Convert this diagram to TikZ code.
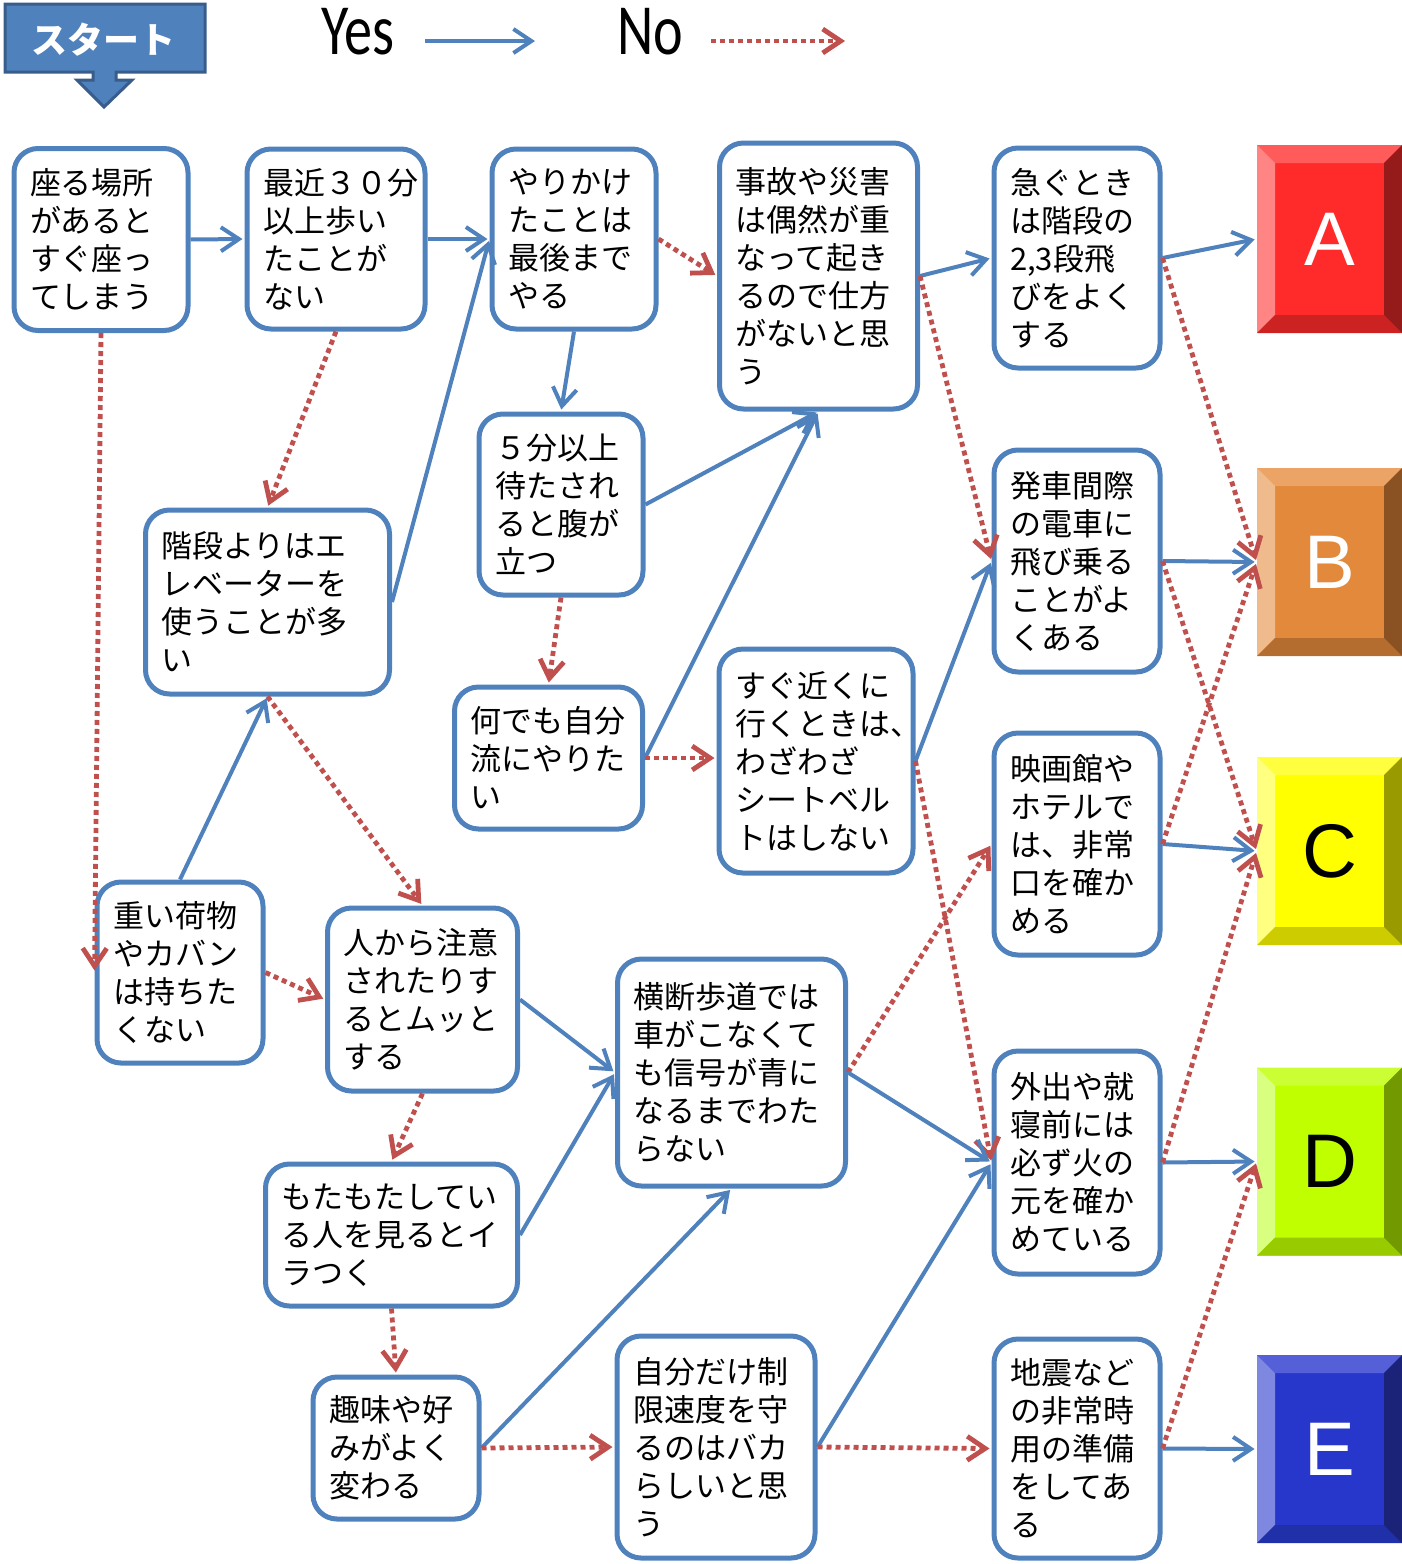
\documentclass[tikz,border=0pt]{standalone}
\usepackage{fontspec}
\usepackage{tikz}
\usetikzlibrary{arrows.meta, positioning, calc}
\newfontfamily\jpfont{Noto Sans CJK JP}
\newfontfamily\legendfont[FakeStretch=0.78]{Carlito}
\newfontfamily\resfont{Liberation Sans}
\definecolor{FlowBlue}{HTML}{4F81BD}
\definecolor{FlowBlueDark}{HTML}{385D8A}
\definecolor{FlowRed}{HTML}{C0504D}
\definecolor{AFace}{HTML}{FF2B2B}\definecolor{ATop}{HTML}{FF5B5B}\definecolor{ALeft}{HTML}{FF8585}\definecolor{ABot}{HTML}{CC2222}\definecolor{ARight}{HTML}{951A1A}
\definecolor{BFace}{HTML}{E2893B}\definecolor{BTop}{HTML}{ECA466}\definecolor{BLeft}{HTML}{F0BB8C}\definecolor{BBot}{HTML}{B56D2F}\definecolor{BRight}{HTML}{8A5223}
\definecolor{CFace}{HTML}{FFFF00}\definecolor{CTop}{HTML}{FFFF40}\definecolor{CLeft}{HTML}{FFFF80}\definecolor{CBot}{HTML}{CCCC00}\definecolor{CRight}{HTML}{999900}
\definecolor{DFace}{HTML}{BFFF00}\definecolor{DTop}{HTML}{CCFF33}\definecolor{DLeft}{HTML}{D9FF80}\definecolor{DBot}{HTML}{99CC00}\definecolor{DRight}{HTML}{739900}
\definecolor{EFace}{HTML}{2837CB}\definecolor{ETop}{HTML}{5560D8}\definecolor{ELeft}{HTML}{7F88E0}\definecolor{EBot}{HTML}{2030A8}\definecolor{ERight}{HTML}{1A2378}
\hfuzz=40pt

\begin{document}
\begin{tikzpicture}[
  x=0.5pt, y=-0.5pt,
  qbox/.style={rectangle, draw=FlowBlue, line width=2.5pt, rounded corners=12pt, fill=white, align=left, inner xsep=8pt, font=\jpfont\fontsize{15.5}{19}\selectfont},
  result/.style={rectangle, minimum width=72.5pt, minimum height=94pt, inner sep=0pt, fill=#1Face, font=\resfont\fontsize{38}{40}\selectfont,
    path picture={
      \fill[#1Top] (path picture bounding box.north west) -- (path picture bounding box.north east) -- ([shift={(-9pt,-9pt)}]path picture bounding box.north east) -- ([shift={(9pt,-9pt)}]path picture bounding box.north west) -- cycle;
      \fill[#1Left] (path picture bounding box.north west) -- ([shift={(9pt,-9pt)}]path picture bounding box.north west) -- ([shift={(9pt,9pt)}]path picture bounding box.south west) -- (path picture bounding box.south west) -- cycle;
      \fill[#1Bot] (path picture bounding box.south west) -- ([shift={(9pt,9pt)}]path picture bounding box.south west) -- ([shift={(-9pt,9pt)}]path picture bounding box.south east) -- (path picture bounding box.south east) -- cycle;
      \fill[#1Right] (path picture bounding box.north east) -- (path picture bounding box.south east) -- ([shift={(-9pt,9pt)}]path picture bounding box.south east) -- ([shift={(-9pt,-9pt)}]path picture bounding box.north east) -- cycle;
    }},
  yesarrow/.style={draw=FlowBlue, line width=2pt, -{Straight Barb[length=9pt,width=12pt]}, shorten >=1pt},
  noarrow/.style={draw=FlowRed, line width=2.4pt, dash pattern=on 2.5pt off 2pt, -{Straight Barb[length=9pt,width=12pt]}, shorten >=1pt}
]
\useasboundingbox (0,0) rectangle (1402,1564);

\fill[FlowBlue, draw=FlowBlueDark, line width=1.5pt, line join=miter] (5,4) -- (205,4) -- (205,72) -- (116,72) -- (116,80) -- (132,80) -- (104,107) -- (77,80) -- (93,80) -- (93,72) -- (5,72) -- cycle;
\node[font=\jpfont\bfseries\fontsize{18}{20}\selectfont, text=white] (Start) at (104,40) {スタート};

\node[font=\legendfont\fontsize{36}{40}\selectfont, inner sep=0pt, anchor=base] (YesLbl) at (358,54) {Yes};
\node[font=\legendfont\fontsize{36}{40}\selectfont, inner sep=0pt, anchor=base] (NoLbl) at (650,54) {No};
\coordinate (YesFrom) at (425,41);
\coordinate (YesTo) at (537,41);
\coordinate (NoFrom) at (711,41);
\coordinate (NoTo) at (847,41);

\node[qbox, text width=71pt, minimum height=91pt] (Sit) at (101,239.5) {座る場所\\があると\\すぐ座っ\\てしまう};
\node[qbox, text width=73pt, minimum height=90pt] (Walk) at (336,239) {最近３０分\\以上歩い\\たことが\\ない};
\node[qbox, text width=66pt, minimum height=90pt] (Finish) at (574,239) {やりかけ\\たことは\\最後まで\\やる};
\node[qbox, text width=83pt, minimum height=133pt] (Fate) at (818.5,276) {事故や災害\\は偶然が重\\なって起き\\るので仕方\\がないと思\\う};
\node[qbox, text width=67pt, minimum height=110pt] (Stairs) at (1077,258) {急ぐとき\\は階段の\\2,3段飛\\びをよく\\する};
\node[qbox, text width=66pt, minimum height=90.5pt] (Wait) at (561,504.5) {５分以上\\待たされ\\ると腹が\\立つ};
\node[qbox, text width=106pt, minimum height=92pt] (Elevator) at (267.5,602) {階段よりはエ\\レベーターを\\使うことが多\\い};
\node[qbox, text width=78pt, minimum height=71pt] (MyWay) at (548.5,758) {何でも自分\\流にやりた\\い};
\node[qbox, text width=81pt, minimum height=112pt] (Belt) at (816,761) {すぐ近くに\\行くときは、\\わざわざ\\シートベル\\トはしない};
\node[qbox, text width=67pt, minimum height=111pt] (Train) at (1077,561) {発車間際\\の電車に\\飛び乗る\\ことがよ\\くある};
\node[qbox, text width=67pt, minimum height=111pt] (Exit) at (1077,844) {映画館や\\ホテルで\\は、非常\\口を確か\\める};
\node[qbox, text width=67pt, minimum height=90.5pt] (Luggage) at (180,972.5) {重い荷物\\やカバン\\は持ちた\\くない};
\node[qbox, text width=79pt, minimum height=91.5pt] (Warned) at (422.5,999.5) {人から注意\\されたりす\\るとムッと\\する};
\node[qbox, text width=98pt, minimum height=113.5pt] (Crossing) at (731.5,1072.5) {横断歩道では\\車がこなくて\\も信号が青に\\なるまでわた\\らない};
\node[qbox, text width=67pt, minimum height=111.5pt] (Fire) at (1077,1162.5) {外出や就\\寝前には\\必ず火の\\元を確か\\めている};
\node[qbox, text width=110pt, minimum height=71pt] (Slow) at (391.5,1235) {もたもたしてい\\る人を見るとイ\\ラつく};
\node[qbox, text width=67pt, minimum height=71pt] (Hobby) at (396,1448) {趣味や好\\みがよく\\変わる};
\node[qbox, text width=83pt, minimum height=111pt] (Speed) at (716,1447) {自分だけ制\\限速度を守\\るのはバカ\\らしいと思\\う};
\node[qbox, text width=67pt, minimum height=109.5pt] (Quake) at (1077,1448.5) {地震など\\の非常時\\用の準備\\をしてあ\\る};

\node[result=A, text=white] (ResA) at (1329.5,239) {A};
\node[result=B, text=white] (ResB) at (1329.5,562) {B};
\node[result=C, text=black] (ResC) at (1329.5,851) {C};
\node[result=D, text=black] (ResD) at (1329.5,1161.5) {D};
\node[result=E, text=white] (ResE) at (1329.5,1449) {E};

\draw[yesarrow] (YesFrom) -- (YesTo);
\draw[noarrow] (NoFrom) -- (NoTo);

\draw[yesarrow] (Sit.east) -- (Walk.west);
\draw[noarrow] (Sit.south) -- (Luggage.west);
\draw[yesarrow] (Walk.east) -- (Finish.west);
\draw[noarrow] (Walk.south) -- (Elevator.north);
\draw[noarrow] (Finish.east) -- (Fate.west);
\draw[yesarrow] (Finish.south) -- (Wait.north);
\draw[yesarrow] (Fate.east) -- (Stairs.west);
\draw[noarrow] (Fate.east) -- (Train.west);
\draw[yesarrow] (Stairs.east) -- (ResA.west);
\draw[noarrow] (Stairs.east) -- (ResB.west);
\draw[yesarrow] (Wait.east) -- (Fate.south);
\draw[noarrow] (Wait.south) -- (MyWay.north);
\draw[yesarrow] (Elevator.east) -- (Finish.west);
\draw[noarrow] (Elevator.south) -- (Warned.north);
\draw[yesarrow] (MyWay.east) -- (Fate.south);
\draw[noarrow] (MyWay.east) -- (MyWay.east -| Belt.west);
\draw[yesarrow] (Belt.east) -- (Train.west);
\draw[noarrow] (Belt.east) -- (Fire.west);
\draw[yesarrow] (Train.east) -- (ResB.west);
\draw[noarrow] (Train.east) -- (ResC.west);
\draw[yesarrow] (Exit.east) -- (ResC.west);
\draw[noarrow] (Exit.east) -- (ResB.west);
\draw[yesarrow] (Luggage.north) -- (Elevator.south);
\draw[noarrow] (Luggage.east) -- (Warned.west);
\draw[yesarrow] (Warned.east) -- (Crossing.west);
\draw[noarrow] (Warned.south) -- (Slow.north);
\draw[noarrow] (Crossing.east) -- (Exit.west);
\draw[yesarrow] (Crossing.east) -- (Fire.west);
\draw[yesarrow] (Fire.east) -- (ResD.west);
\draw[noarrow] (Fire.east) -- (ResC.west);
\draw[yesarrow] (Slow.east) -- (Crossing.west);
\draw[noarrow] (Slow.south) -- (Hobby.north);
\draw[yesarrow] (Hobby.east) -- (Crossing.south);
\draw[noarrow] (Hobby.east) -- (Speed.west);
\draw[yesarrow] (Speed.east) -- (Fire.west);
\draw[noarrow] (Speed.east) -- (Quake.west);
\draw[yesarrow] (Quake.east) -- (ResE.west);
\draw[noarrow] (Quake.east) -- (ResD.west);
\end{tikzpicture}
\end{document}
